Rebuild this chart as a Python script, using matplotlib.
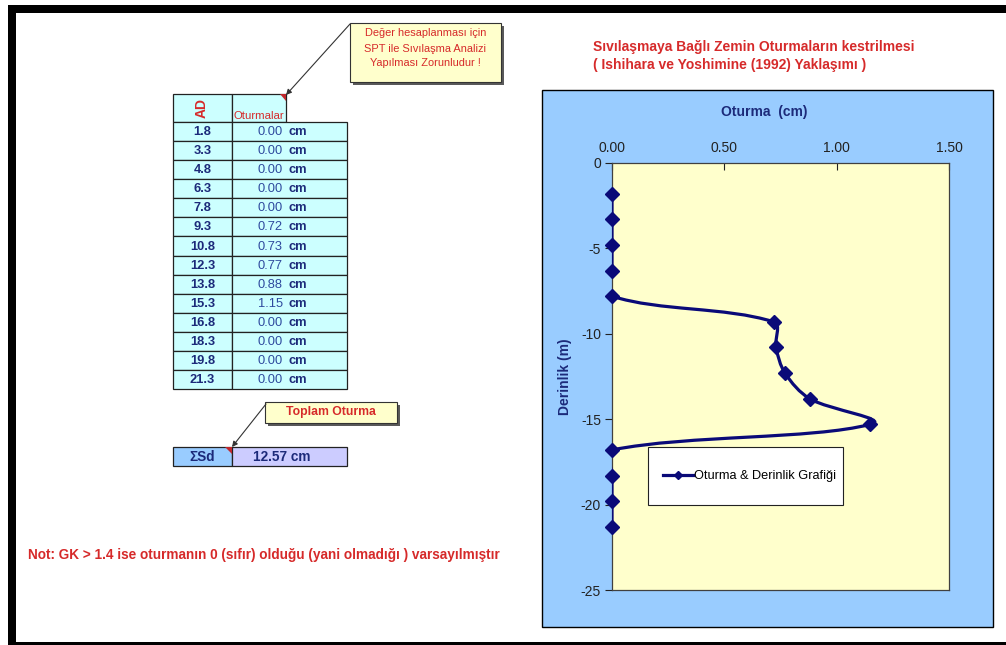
import matplotlib
matplotlib.use("Agg")
import math
import matplotlib.pyplot as plt
from matplotlib.patches import Rectangle, Polygon, PathPatch
from matplotlib.path import Path
from matplotlib.lines import Line2D

plt.rcParams['font.family'] = ['Liberation Sans', 'DejaVu Sans']

# ---------------- data ----------------
depths = [1.8, 3.3, 4.8, 6.3, 7.8, 9.3, 10.8, 12.3, 13.8, 15.3, 16.8, 18.3, 19.8, 21.3]
settlements = [0.00, 0.00, 0.00, 0.00, 0.00, 0.72, 0.73, 0.77, 0.88, 1.15, 0.00, 0.00, 0.00, 0.00]
total_label = "12.57 cm"
x_ticks = [0.0, 0.5, 1.0, 1.5]
y_ticks = [0, -5, -10, -15, -20, -25]
title_lines = ["Sıvılaşmaya Bağlı Zemin Oturmaların kestrilmesi",
               "( Ishihara ve Yoshimine (1992) Yaklaşımı )"]
callout_lines = ["Değer hesaplanması için", "SPT ile Sıvılaşma Analizi", "Yapılması Zorunludur !"]
note_text = "Not: GK > 1.4 ise oturmanın 0 (sıfır) olduğu (yani olmadığı ) varsayılmıştır"
legend_label = "Oturma & Derinlik Grafiği"

W, H = 1006, 645
RED = '#d62a2a'
NAVY = '#1c2a7a'
MARK = '#0a0a78'

fig = plt.figure(figsize=(W / 100, H / 100), dpi=100)
fig.patch.set_facecolor('white')

bg = fig.add_axes([0, 0, 1, 1])
bg.set_xlim(0, W)
bg.set_ylim(H, 0)
bg.axis('off')

# black frame of screenshot
bg.add_patch(Rectangle((8, 5), W - 8, 8, color='black', lw=0))
bg.add_patch(Rectangle((8, 5), 8, H - 5, color='black', lw=0))
bg.add_patch(Rectangle((8, 642), W - 8, 3, color='black', lw=0))

# ---------------- callout 1 ----------------
bg.add_patch(Rectangle((353, 26), 151, 59, color='#5a5a5a', lw=0))
bg.add_patch(Rectangle((350, 23), 151, 59, fc='#FFFFCC', ec='#333333', lw=0.8))
for k, t in enumerate(callout_lines):
    bg.text(425.5, 33.5 + 15 * k, t, ha='center', va='center', fontsize=7.9, color=RED)
bg.annotate('', xy=(286, 95), xytext=(350, 24),
            arrowprops=dict(arrowstyle='-|>', color='#333333', lw=0.8,
                            mutation_scale=8, shrinkA=0, shrinkB=0))

# ---------------- table ----------------
CYAN = '#CCFFFF'
EDGE = '#222222'
x0, x1, x2 = 173, 232, 347
bg.add_patch(Rectangle((x0, 94), x1 - x0, 28, fc=CYAN, ec=EDGE, lw=0.9))
bg.add_patch(Rectangle((x1, 94), 54, 28, fc=CYAN, ec=EDGE, lw=0.9))
bg.add_patch(Polygon([(280, 94), (286.5, 94), (286.5, 100.5)], closed=True, color='#c0282d', lw=0))
bg.text(202, 108, "AD", rotation=90, ha='center', va='center', fontsize=10,
        fontweight='bold', color=RED)
bg.text(234, 116, "Oturmalar", ha='left', va='center', fontsize=8.2, color=RED)

row_top = 122
row_h = 19.08
for i, (d, s) in enumerate(zip(depths, settlements)):
    y = row_top + i * row_h
    bg.add_patch(Rectangle((x0, y), x1 - x0, row_h, fc=CYAN, ec=EDGE, lw=0.9))
    bg.add_patch(Rectangle((x1, y), x2 - x1, row_h, fc=CYAN, ec=EDGE, lw=0.9))
    yc = y + row_h / 2 + 0.5
    bg.text((x0 + x1) / 2, yc, f"{d:.1f}", ha='center', va='center', fontsize=9.3,
            fontweight='bold', color=NAVY)
    bg.text(283, yc, f"{s:.2f}", ha='right', va='center', fontsize=9.3, color='#2e4a9e')
    bg.text(289, yc, "cm", ha='left', va='center', fontsize=9.3, fontweight='bold', color=NAVY)

# ---------------- callout 2 + total ----------------
bg.add_patch(Rectangle((268, 405), 132, 21, color='#5a5a5a', lw=0))
bg.add_patch(Rectangle((265, 402), 132, 21, fc='#FFFFCC', ec='#333333', lw=0.8))
bg.text(331, 412, "Toplam Oturma", ha='center', va='center', fontsize=8.8,
        fontweight='bold', color=RED)
bg.annotate('', xy=(232, 447), xytext=(266, 404),
            arrowprops=dict(arrowstyle='-|>', color='#333333', lw=0.8,
                            mutation_scale=8, shrinkA=0, shrinkB=0))
bg.add_patch(Rectangle((x0, 447), x1 - x0, 19, fc='#99CCFF', ec=EDGE, lw=0.9))
bg.add_patch(Rectangle((x1, 447), x2 - x1, 19, fc='#CCCCFF', ec=EDGE, lw=0.9))
bg.add_patch(Polygon([(225, 447), (232, 447), (232, 454)], closed=True, color='#c0282d', lw=0))
bg.text(202, 457, "ΣSd", ha='center', va='center', fontsize=9.8, fontweight='bold', color=NAVY)
bg.text(282, 457, total_label, ha='center', va='center', fontsize=9.8, fontweight='bold', color=NAVY)

# note
bg.text(28, 555, note_text, ha='left', va='center', fontsize=9.8, fontweight='bold', color=RED)

# chart title
for k, t in enumerate(title_lines):
    bg.text(593, 47 + 18 * k, t, ha='left', va='center', fontsize=10, fontweight='bold', color=RED)

# chart area
bg.add_patch(Rectangle((542, 90), 451, 537, fc='#99CCFF', ec='black', lw=1))

# ---------------- chart ----------------
L, R, T, B = 612, 949, 163, 590
ax = fig.add_axes([L / W, 1 - B / H, (R - L) / W, (B - T) / H])
ax.set_facecolor('#FFFFCC')
ax.set_xlim(0, 1.5)
ax.set_ylim(-25, 0)
ax.set_autoscale_on(False)
ax.xaxis.tick_top()
ax.xaxis.set_label_position('top')
ax.set_xticks(x_ticks)
ax.set_xticklabels([f"{v:.2f}" for v in x_ticks])
ax.set_yticks(y_ticks)
ax.set_yticklabels([str(v) for v in y_ticks])
ax.tick_params(axis='x', direction='in', length=5, pad=6, labelsize=10, colors='#222222')
ax.tick_params(axis='y', direction='out', length=5, pad=3, labelsize=10, colors='#222222')
for sp in ax.spines.values():
    sp.set_color('#404040')
    sp.set_linewidth(0.9)
ax.set_xlabel("Oturma  (cm)", fontsize=10, fontweight='bold', color=NAVY, labelpad=18)
ax.xaxis.label.set_x(0.4525)
ax.set_ylabel("Derinlik (m)", fontsize=10, fontweight='bold', color=NAVY, labelpad=6.5)

# smoothed line (spreadsheet-style smoothing, computed in display space)
xs = settlements
ys = [-d for d in depths]
disp = ax.transData.transform(list(zip(xs, ys)))
pts = [tuple(p) for p in disp]
n = len(pts)


def dist(a, b):
    return math.hypot(a[0] - b[0], a[1] - b[1])


verts = [pts[0]]
codes = [Path.MOVETO]
for i in range(n - 1):
    p0 = pts[i - 1] if i > 0 else pts[i]
    p1 = pts[i]
    p2 = pts[i + 1]
    p3 = pts[i + 2] if i + 2 < n else pts[i + 1]
    d12 = dist(p1, p2)
    d02, d13 = dist(p0, p2), dist(p1, p3)
    f1 = min(d12 / d02 / 3, 0.3) if d02 > 0 else 0
    f2 = min(d12 / d13 / 3, 0.3) if d13 > 0 else 0
    c1 = (p1[0] + (p2[0] - p0[0]) * f1, p1[1] + (p2[1] - p0[1]) * f1)
    c2 = (p2[0] - (p3[0] - p1[0]) * f2, p2[1] - (p3[1] - p1[1]) * f2)
    verts += [c1, c2, p2]
    codes += [Path.CURVE4] * 3
verts_data = ax.transData.inverted().transform(verts)
ax.add_patch(PathPatch(Path(verts_data, codes), fc='none', ec=MARK, lw=2.3, zorder=3))
ax.plot(xs, ys, ls='none', marker='D', ms=7, color=MARK, zorder=4, clip_on=False)

# legend
frame = Rectangle((648, 447), 195, 58, fc='white', ec='#222222', lw=0.8,
                  transform=bg.transData, zorder=5, clip_on=False)
ax.add_artist(frame)
handle = Line2D([], [], color=MARK, lw=2.3, marker='D', ms=4)
leg = ax.legend([handle], [legend_label], loc='center left', frameon=False,
                bbox_to_anchor=(657 / W, 1 - 476 / H), bbox_transform=fig.transFigure,
                handlelength=2.3, handletextpad=0.1, fontsize=9.2, borderpad=0, numpoints=1)
leg.set_zorder(6)

fig.savefig("out.png", dpi=100)
